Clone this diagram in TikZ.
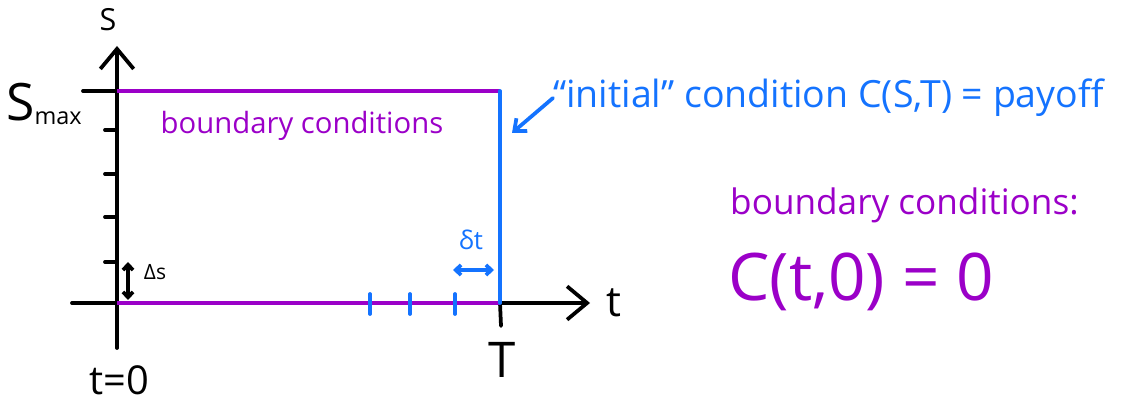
\documentclass[tikz,border=0pt]{standalone}
\usepackage{fontspec}
\setmainfont{Open Sans}
\usetikzlibrary{arrows.meta}
\definecolor{bcpurple}{RGB}{155,0,200}
\definecolor{icblue}{RGB}{20,115,255}
\newcommand{\fsz}[1]{\fontsize{#1}{#1}\selectfont}
\begin{document}
\begin{tikzpicture}[
    x=0.03cm, y=-0.03cm,
    axis/.style={line width=3.2pt, black, line cap=round},
    bcline/.style={line width=3.2pt, bcpurple},
    icline/.style={line width=3.2pt, icblue, line cap=round},
    bigtip/.style={-{Straight Barb[length=6mm,width=10mm,line width=3.2pt]}},
    smalltip/.style={{Straight Barb[length=1.6mm,width=3mm]}-{Straight Barb[length=1.6mm,width=3mm]}},
    bclabel/.style={text=bcpurple, inner sep=0pt},
    iclabel/.style={text=icblue, inner sep=0pt}
]
\useasboundingbox (0,0) rectangle (1124,402);

% corners of the grid
\coordinate (O)    at (117,303);
\coordinate (Stl)  at (117,91);
\coordinate (Str)  at (500,91);
\coordinate (Tb)   at (500,303);
\coordinate (stop) at (117,46);
\coordinate (sbot) at (117,348);
\coordinate (tlft) at (72,303);
\coordinate (trgt) at (590,303);

% axes
\draw [axis, bigtip] (sbot) -- (stop);
\draw [axis, bigtip] (tlft) -- (trgt);
\draw [axis] (83,91) -- (Stl);
\foreach \y in {130,174,217,262}
  \draw [axis] (105,\y) -- (117,\y);
\draw [axis] (Tb) -- (501,326);

% boundaries
\draw [bcline] (Stl) -- (Str);
\draw [bcline] (O) -- (Tb);
\draw [icline] (Tb) -- (Str);
\foreach \x in {370,410,455}
  \draw [icline] (\x,294) -- (\x,314);

% axis labels
\node (slbl) at (108,20)  {\fsz{26}S};
\node (smax) [inner sep=0pt, anchor=west] at (6,104) {\fsz{44}S\textsubscript{\fsz{20}max}};
\node (tlbl) at (614,303) {\fsz{36}t};
\node (Tlbl) at (502,360) {\fsz{42}T};
\node (tzero) at (119,380) {\fsz{34}t=0};

% step sizes
\coordinate (dsa) at (128,262);
\coordinate (dsb) at (128,300);
\draw [axis, smalltip] (dsa) -- (dsb);
\node (ds) at (155,272) {\fsz{18}Δs};
\coordinate (dta) at (453,270);
\coordinate (dtb) at (494,270);
\draw [icline, smalltip] (dta) -- (dtb);
\node (dt) [iclabel] at (471,240) {\fsz{22}δt};

% conditions
\node (bcin) [bclabel] at (302,126) {\fsz{25}boundary conditions};
\node (init) [iclabel, anchor=west] at (553,98)
  {\fsz{32}“initial” condition C(S,T) = payoff};
\coordinate (initend) at (512,133);
\draw [icline, -{Straight Barb[length=3mm,width=5mm]}] (init.west) -- (initend);
\node (bcout) [bclabel, anchor=west] at (730,205) {\fsz{30}boundary conditions:};
\node (bczero) [bclabel, anchor=west] at (728,282) {\fsz{56}C(t,0) = 0};
\end{tikzpicture}
\end{document}
